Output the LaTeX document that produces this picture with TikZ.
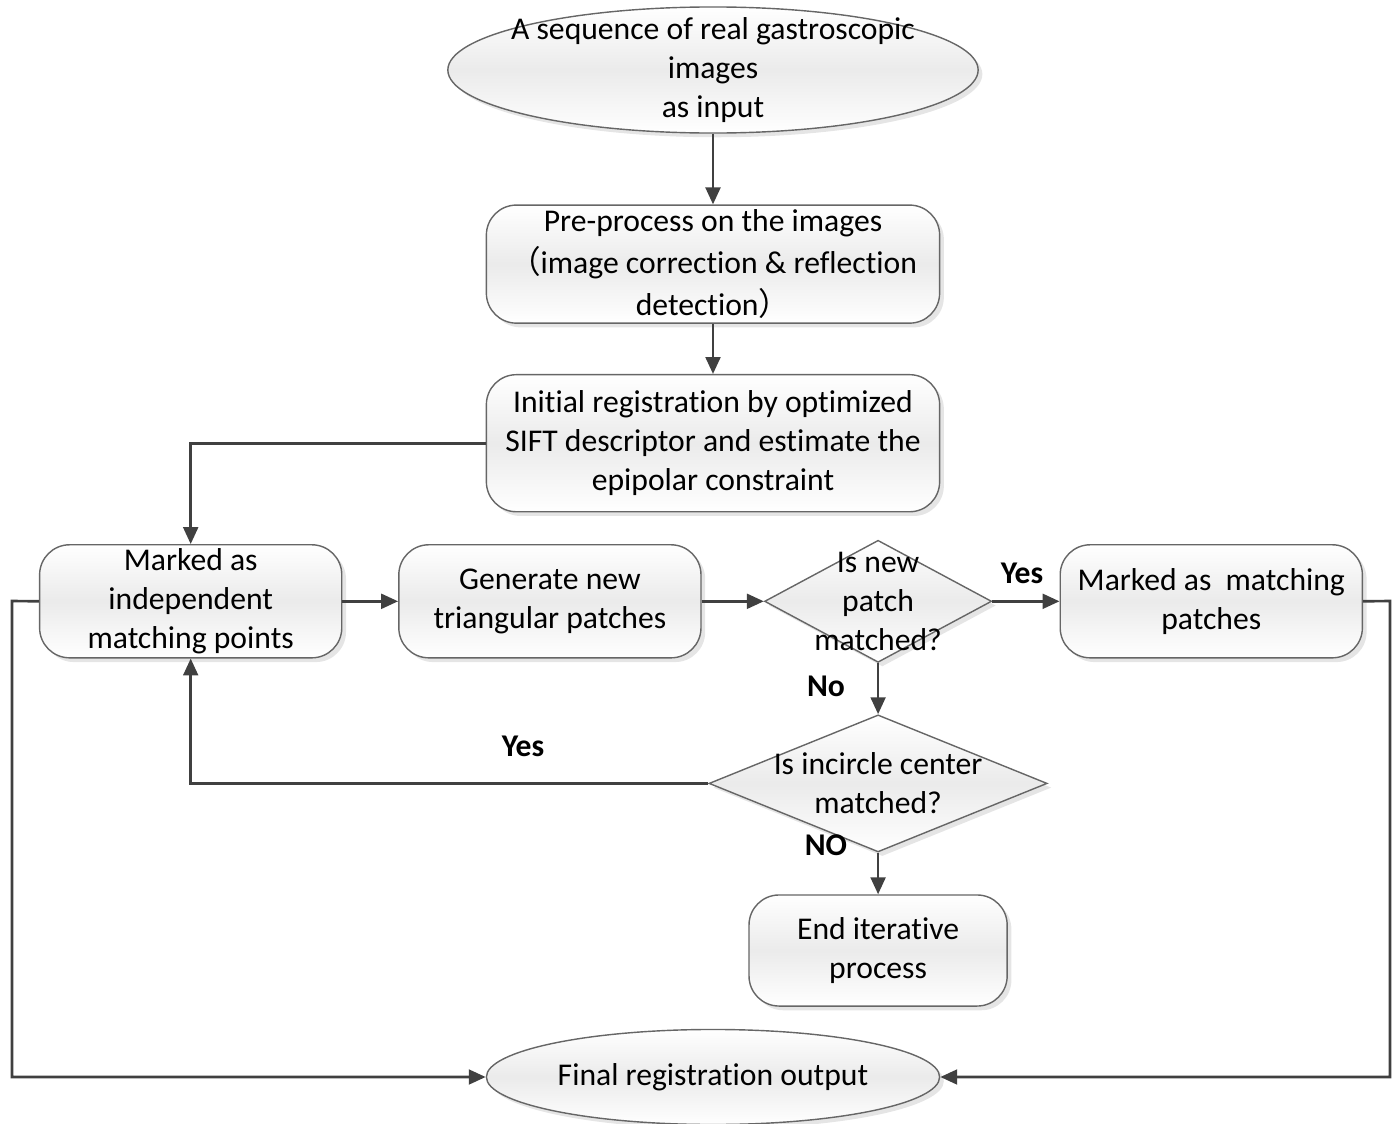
\documentclass[tikz,border=0pt]{standalone}
\usepackage{fontspec}
\setmainfont{Carlito}[RawFeature={-liga;-clig;-calt;-dlig}]
\newfontfamily\cjk{Noto Sans CJK SC}
\usetikzlibrary{shapes.geometric, positioning, arrows.meta, shadows}

\begin{document}
\begin{tikzpicture}[x=0.01cm, y=-0.01cm, on grid, node distance=2cm,
        font=\fontsize{9}{11}\selectfont,
        boxfill/.style={draw=black!60, line width=0.4pt, top color=white, bottom color=white, middle color=black!8,
            drop shadow={shadow xshift=1.2pt, shadow yshift=-1.2pt, fill=black!25, opacity=0.4}},
        process/.style={boxfill, rectangle, rounded corners=0.3cm, minimum width=3.02cm, minimum height=1.13cm,
            align=center, inner sep=0pt},
        terminal/.style={boxfill, ellipse, inner sep=0pt},
        decision/.style={boxfill, diamond, inner sep=0pt},
        flow/.style={draw=black!75, line width=0.75pt, -{Triangle[length=4.8pt, width=4.2pt]}},
        answer/.style={font=\fontsize{9}{11}\selectfont\bfseries}]

    \useasboundingbox (0,0) rectangle (1393,1124);

    % main column
    \node[terminal, minimum width=5.3cm, minimum height=1.26cm] (INPUT) at (713,70) {};
    \node[align=center] (INPUTTXT) at (INPUT) {A sequence of real gastroscopic\\images\\as input};
    \node[process, minimum width=4.53cm, minimum height=1.18cm, below=1.94cm of INPUT] (PRE)
        {Pre-process on the images\\[1pt]{\cjk （}image correction \& reflection\\[1pt]detection{\cjk ）}};
    \node[process, minimum width=4.53cm, minimum height=1.37cm, below=1.79cm of PRE] (INIT)
        {Initial registration by optimized\\SIFT descriptor and estimate the\\epipolar constraint};

    % iteration row
    \node[process, below left=1.58cm and 1.63cm of INIT] (GEN) {Generate new\\triangular patches};
    \node[process, left=3.59cm of GEN] (MARKED) {Marked as\\independent\\matching points};
    \node[decision, minimum width=2.27cm, minimum height=1.22cm, right=3.28cm of GEN] (PATCH) {};
    \node[align=center] (PATCHTXT) at (PATCH) {Is new\\patch\\matched?};
    \node[process, right=3.33cm of PATCH] (MATCH) {Marked as~~matching\\patches};
    \node[decision, minimum width=3.38cm, minimum height=1.37cm, below=1.82cm of PATCH] (CENTER) {};
    \node[align=center] (CENTERTXT) at (CENTER) {Is incircle center\\matched?};
    \node[process, minimum width=2.58cm, minimum height=1.11cm, below=1.67cm of CENTER] (END)
        {End iterative\\process};
    \node[terminal, minimum width=4.53cm, minimum height=0.95cm] (FINAL) at (713,1077) {};
    \node (FINALTXT) at (FINAL) {Final registration output};

    \coordinate (LEFTBEND) at (12,601);
    \coordinate (RIGHTBEND) at (1390,601);

    \path
        (INPUT) edge[flow] (PRE)
        (PRE) edge[flow] (INIT)
        (MARKED) edge[flow] (GEN)
        (GEN) edge[flow] (PATCH.west)
        (PATCH.east) edge[flow] (MATCH)
        (PATCH.south) edge[flow] (CENTER.north)
        (CENTER.south) edge[flow] (END.north);

    \draw[flow] (INIT.west) -| (MARKED.north);
    \draw[flow] (CENTER.west) -| (MARKED.south);
    \draw[flow] (MARKED.west) -- (LEFTBEND) |- (FINAL.west);
    \draw[flow] (MATCH.east) -- (RIGHTBEND) |- (FINAL.east);

    \node[answer] (YES1) at (1022,573) {Yes};
    \node[answer] (NO1) at (826,686) {No};
    \node[answer] (YES2) at (523,746) {Yes};
    \node[answer] (NO2) at (826,845) {NO};
\end{tikzpicture}
\end{document}
